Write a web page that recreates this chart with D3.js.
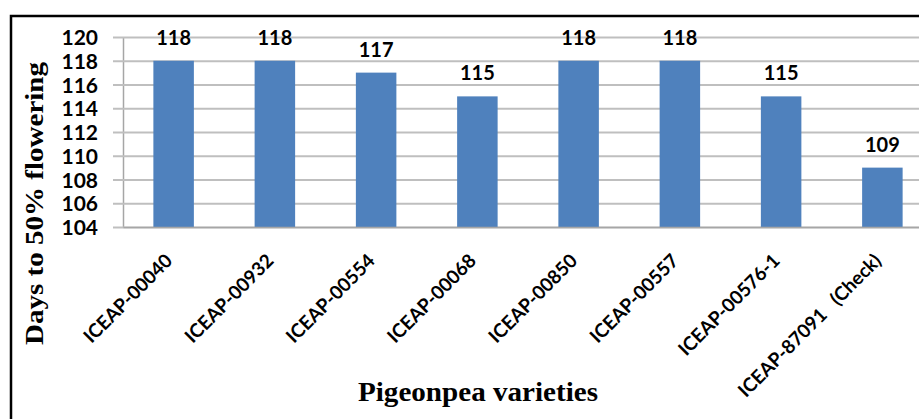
<!DOCTYPE html>
<html>
<head>
<meta charset="utf-8">
<script src="https://cdn.jsdelivr.net/npm/d3@7"></script>
<style>
  body { margin: 0; background: #fff; }
  svg { display: block; }
</style>
</head>
<body>
<div id="chart"></div>
<script>
// data
const varieties = ['ICEAP-00040', 'ICEAP-00932', 'ICEAP-00554', 'ICEAP-00068',
    'ICEAP-00850', 'ICEAP-00557', 'ICEAP-00576-1', 'ICEAP-87091\u00a0\u00a0\u00a0(Check)'];
const daysToFlower = [118, 118, 117, 115, 118, 118, 115, 109];
const yTicks = [104, 106, 108, 110, 112, 114, 116, 118, 120];

const width = 919,
    height = 419;
const margin = {top: 37, right: -14, bottom: 192, left: 123};

const svg = d3.select('#chart').append('svg')
    .attr('width', width)
    .attr('height', height);

// chart frame (only top & left edges fall inside the picture)
svg.append('rect')
    .attr('x', 11)
    .attr('y', 16)
    .attr('width', width + 20)
    .attr('height', height + 20)
    .attr('fill', 'none')
    .attr('stroke', '#000')
    .attr('stroke-width', 2.5);

const xScale = d3.scaleBand()
    .domain(varieties)
    .range([margin.left, width - margin.right])
    .paddingInner(0.6)
    .paddingOuter(0.3);

const yScale = d3.scaleLinear()
    .domain([104, 120])
    .range([height - margin.bottom, margin.top]);

// horizontal grid + y axis
const yAxis = d3.axisLeft(yScale)
    .tickValues(yTicks)
    .tickSize(-(width - margin.right - margin.left))
    .tickSizeOuter(0)
    .tickPadding(25);

const gY = svg.append('g')
    .attr('transform', `translate(${margin.left},0)`)
    .call(yAxis);

gY.select('.domain').attr('stroke', '#a6a6a6').attr('stroke-width', 1.5);
gY.selectAll('.tick line')
    .attr('x1', -10)
    .attr('stroke', '#bfbfbf')
    .attr('stroke-width', 2);
gY.selectAll('.tick text')
    .attr('font-family', 'Lato, sans-serif')
    .attr('font-weight', 'bold')
    .attr('font-size', 21)
    .attr('fill', '#000')
    .attr('dy', '0.36em');

// bars
svg.append('g').selectAll('rect')
    .data(daysToFlower)
    .enter()
    .append('rect')
    .attr('x', (d, i) => xScale(varieties[i]))
    .attr('y', d => yScale(d))
    .attr('width', xScale.bandwidth())
    .attr('height', d => yScale(104) - yScale(d))
    .attr('fill', '#4f81bd');

// value labels
svg.append('g').selectAll('text')
    .data(daysToFlower)
    .enter()
    .append('text')
    .attr('x', (d, i) => xScale(varieties[i]) + xScale.bandwidth() / 2)
    .attr('y', d => yScale(d) - 16)
    .attr('text-anchor', 'middle')
    .attr('font-family', 'Lato, sans-serif')
    .attr('font-weight', 'bold')
    .attr('font-size', 20)
    .attr('fill', '#000')
    .text(d => d);

// x axis
const xAxis = d3.axisBottom(xScale).tickSize(0).tickSizeOuter(0);
const gX = svg.append('g')
    .attr('transform', `translate(0,${height - margin.bottom})`)
    .call(xAxis);
gX.select('.domain').attr('stroke', '#a6a6a6').attr('stroke-width', 1.5);
gX.selectAll('.tick text')
    .attr('font-family', 'Lato, sans-serif')
    .attr('font-weight', 'bold')
    .attr('font-size', 19)
    .attr('fill', '#000')
    .attr('text-anchor', 'end')
    .attr('dy', 0)
    .attr('y', 0)
    .attr('transform', 'translate(0,35) rotate(-45)');

// axis titles
svg.append('text')
    .attr('transform', `translate(43,${(62 + 345) / 2}) rotate(-90)`)
    .attr('text-anchor', 'middle')
    .attr('font-family', '"Liberation Serif", "Times New Roman", serif')
    .attr('font-weight', 'bold')
    .attr('font-size', 26)
    .attr('textLength', 283)
    .attr('lengthAdjust', 'spacingAndGlyphs')
    .attr('fill', '#000')
    .text('Days to 50% flowering');

svg.append('text')
    .attr('x', 478)
    .attr('y', 401)
    .attr('text-anchor', 'middle')
    .attr('font-family', '"Liberation Serif", "Times New Roman", serif')
    .attr('font-weight', 'bold')
    .attr('font-size', 27)
    .attr('textLength', 240)
    .attr('lengthAdjust', 'spacingAndGlyphs')
    .attr('fill', '#000')
    .text('Pigeonpea varieties');
</script>
</body>
</html>
